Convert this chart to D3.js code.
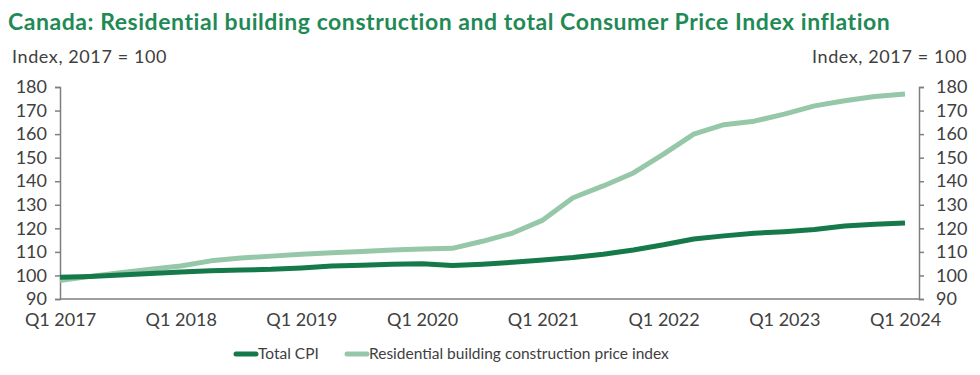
<!DOCTYPE html>
<html>
<head>
<meta charset="utf-8">
<script src="https://cdn.jsdelivr.net/npm/d3@7"></script>
<style>
  body { margin: 0; background: #fff; }
  text { font-family: Lato, "Open Sans", sans-serif; }
</style>
</head>
<body>
<div id="chart"></div>
<script>
// Quarter labels, Q1 2017 .. Q1 2024
const quarters = [];
for (let y = 2017; y <= 2024; y++) {
    for (let q = 1; q <= 4; q++) {
        if (y === 2024 && q > 1) break;
        quarters.push("Q" + q + " " + y);
    }
}

// Series values
const totalCPI = [99.2, 99.6, 100.2, 100.8, 101.5, 102.0, 102.3, 102.6, 103.2, 104.0, 104.3, 104.7,
    105.0, 104.2, 104.8, 105.6, 106.6, 107.6, 109.0, 110.8, 113.0, 115.5, 116.8, 117.9,
    118.6, 119.5, 121.0, 121.7, 122.3];
const residential = [97.8, 99.6, 101.2, 102.6, 104.0, 106.2, 107.4, 108.2, 109.0, 109.6, 110.2, 110.8,
    111.2, 111.5, 114.5, 118.0, 123.5, 133.0, 138.0, 143.5, 151.5, 160.0, 164.0, 165.5,
    168.5, 172.0, 174.2, 176.0, 177.0];

const yTicks = [90, 100, 110, 120, 130, 140, 150, 160, 170, 180];
const xTickLabels = ["Q1 2017", "Q1 2018", "Q1 2019", "Q1 2020", "Q1 2021", "Q1 2022", "Q1 2023", "Q1 2024"];

const seriesNames = ["Total CPI", "Residential building construction price index"];
const colors = ["#15794a", "#95c7a8"];

const width = 980, height = 375;
const margin = {top: 87, right: 61, bottom: 76, left: 60};

const svg = d3.select("#chart").append("svg")
    .attr("width", width)
    .attr("height", height);

// Title and axis captions
svg.append("text")
    .attr("x", 8).attr("y", 30)
    .attr("fill", "#1f8a55")
    .style("font-size", "23px")
    .style("font-weight", "bold")
    .style("letter-spacing", "0.55px")
    .text("Canada: Residential building construction and total Consumer Price Index inflation");

svg.append("text")
    .attr("x", 12).attr("y", 63)
    .attr("fill", "#404040")
    .style("font-size", "18px")
    .style("letter-spacing", "0.6px")
    .text("Index, 2017 = 100");

svg.append("text")
    .attr("x", width - 13).attr("y", 63)
    .attr("text-anchor", "end")
    .attr("fill", "#404040")
    .style("font-size", "18px")
    .style("letter-spacing", "0.6px")
    .text("Index, 2017 = 100");

const x = d3.scalePoint()
    .domain(quarters)
    .range([margin.left, 905]);

const y = d3.scaleLinear()
    .domain([90, 180])
    .range([height - margin.bottom, margin.top]);

// Axes
const leftAxis = svg.append("g")
    .attr("transform", "translate(" + margin.left + ",0)")
    .call(d3.axisLeft(y).tickValues(yTicks).tickSize(5).tickPadding(8));

const rightAxis = svg.append("g")
    .attr("transform", "translate(" + (width - margin.right) + ",0)")
    .call(d3.axisRight(y).tickValues(yTicks).tickSize(5).tickPadding(12));

const bottomAxis = svg.append("g")
    .attr("transform", "translate(0," + (height - margin.bottom) + ")")
    .call(d3.axisBottom(x).tickValues(xTickLabels).tickSize(0).tickPadding(14));

// bottom axis line runs the whole width between the two y axes
bottomAxis.select(".domain").remove();
svg.append("line")
    .attr("x1", margin.left).attr("x2", width - margin.right)
    .attr("y1", height - margin.bottom).attr("y2", height - margin.bottom)
    .attr("stroke", "#7f7f7f").attr("stroke-width", 1.5);

[leftAxis, rightAxis].forEach(function (g) {
    g.select(".domain").attr("stroke", "#7f7f7f").attr("stroke-width", 1.5);
    g.selectAll(".tick line").attr("stroke", "#7f7f7f").attr("stroke-width", 1.5);
});
[leftAxis, rightAxis, bottomAxis].forEach(function (g) {
    g.selectAll(".tick text")
        .attr("fill", "#404040")
        .style("font-size", "18px")
        .style("font-family", "Lato, 'Open Sans', sans-serif");
});

// Lines
const line = d3.line()
    .x((d, i) => x(quarters[i]))
    .y(d => y(d));

svg.append("path")
    .datum(residential)
    .attr("fill", "none")
    .attr("stroke", colors[1])
    .attr("stroke-width", 5)
    .attr("stroke-linejoin", "round")
    .attr("d", line);

svg.append("path")
    .datum(totalCPI)
    .attr("fill", "none")
    .attr("stroke", colors[0])
    .attr("stroke-width", 5)
    .attr("stroke-linejoin", "round")
    .attr("d", line);

// Legend
const legendPos = [236, 347];
const legend = svg.append("g");
seriesNames.forEach(function (name, i) {
    legend.append("line")
        .attr("x1", legendPos[i]).attr("x2", legendPos[i] + 20)
        .attr("y1", 354).attr("y2", 354)
        .attr("stroke", colors[i])
        .attr("stroke-width", 5)
        .attr("stroke-linecap", "round");
    legend.append("text")
        .attr("x", legendPos[i] + 22).attr("y", 359)
        .attr("fill", "#404040")
        .style("font-size", "15.5px")
        .text(name);
});
</script>
</body>
</html>
